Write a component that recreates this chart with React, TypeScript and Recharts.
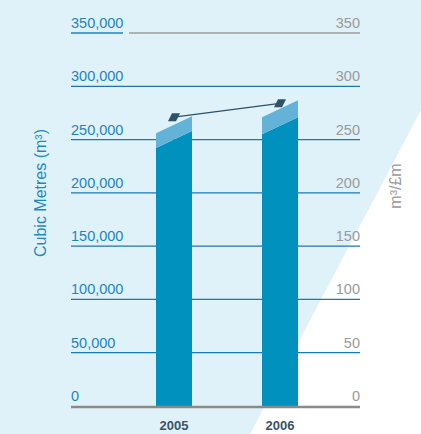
import { Bar, CartesianGrid, ComposedChart, Line, XAxis, YAxis } from 'recharts';

const years = ['2005', '2006'];
const baseVolume = [250000, 263000];
const topVolume = [14000, 16000];
const perMillion = [271, 284];
const volumeTicks = [0, 50000, 100000, 150000, 200000, 250000, 300000, 350000];
const ratioTicks = [0, 50, 100, 150, 200, 250, 300, 350];

const data = years.map((year, i) => ({
  year,
  base: baseVolume[i],
  top: topVolume[i],
  ratio: perMillion[i],
}));

const W = 421;
const H = 434;
const PLOT_LEFT = 71;
const PLOT_RIGHT = 360;
const SLANT = 8.5;
const FONT = '"Liberation Sans", Arial, sans-serif';

const pts = (list: number[][]) => list.map((p) => p.join(',')).join(' ');

const BaseShape = (p: any) => {
  const { x, y, width, height, fill } = p;
  return (
    <polygon
      fill={fill}
      points={pts([[x, y + height], [x + width, y + height], [x + width, y - SLANT], [x, y + SLANT]])}
    />
  );
};

const TopShape = (p: any) => {
  const { x, y, width, height, fill } = p;
  return (
    <polygon
      fill={fill}
      points={pts([[x, y + height + SLANT], [x + width, y + height - SLANT], [x + width, y - SLANT], [x, y + SLANT]])}
    />
  );
};

const RatioDot = (p: any) => {
  const { cx, cy } = p;
  if (cx == null || cy == null) return null;
  return (
    <polygon
      fill="#2d5366"
      points={pts([[cx - 6, cy + 4], [cx + 2, cy + 4], [cx + 6, cy - 4], [cx - 2, cy - 4]])}
    />
  );
};

const VolumeTick = ({ y, payload }: any) => {
  const v = payload.value as number;
  return (
    <g>
      <text x={PLOT_LEFT} y={y - 5} textAnchor="start" fill="#1f86bb" fontSize={14.5} fontFamily={FONT}>
        {v.toLocaleString('en-GB')}
      </text>
      {v === 350000 && (
        <>
          <line x1={PLOT_LEFT} x2={123} y1={y} y2={y} stroke="#1f86bb" strokeWidth={1.5} />
          <line x1={129} x2={PLOT_RIGHT} y1={y} y2={y} stroke="#9c9c9c" strokeWidth={1.5} />
        </>
      )}
      {v === 0 && (
        <line x1={PLOT_LEFT} x2={PLOT_RIGHT} y1={y + 1} y2={y + 1} stroke="#8a8a8a" strokeWidth={2.5} />
      )}
    </g>
  );
};

const RatioTick = ({ y, payload }: any) => (
  <text x={PLOT_RIGHT} y={y - 5} textAnchor="end" fill="#9a9a9a" fontSize={14.5} fontFamily={FONT}>
    {payload.value}
  </text>
);

const YearTick = ({ x, payload }: any) => (
  <text x={x} y={430} textAnchor="middle" fill="#3b5362" fontSize={13} fontWeight="bold" fontFamily={FONT}>
    {payload.value}
  </text>
);

const VolumeTitle = () => (
  <text
    x={46}
    y={193}
    transform="rotate(-90, 46, 193)"
    textAnchor="middle"
    fill="#1f8ac0"
    fontSize={16}
    fontFamily={FONT}
  >
    Cubic Metres (m³)
  </text>
);

const RatioTitle = () => (
  <text
    x={401}
    y={186}
    transform="rotate(-90, 401, 186)"
    textAnchor="middle"
    fill="#9a9a9a"
    fontSize={16}
    fontFamily={FONT}
  >
    m³/£m
  </text>
);

export default function App() {
  return (
    <div style={{ position: 'absolute', top: 0, left: 0, width: W, height: H, overflow: 'hidden' }}>
      <svg width={W} height={H} style={{ position: 'absolute', top: 0, left: 0 }}>
        <rect width={W} height={H} fill="#dff1f9" />
        <polygon points="421,110 421,434 250,434" fill="#ffffff" />
      </svg>
      <div style={{ position: 'absolute', top: 0, left: 0 }}>
        <ComposedChart width={W} height={H} data={data} margin={{ top: 33, right: 0, left: 0, bottom: 0 }}>
          <CartesianGrid
            yAxisId="left"
            vertical={false}
            horizontalValues={[50000, 100000, 150000, 200000, 250000, 300000]}
            stroke="#1b78b0"
            strokeWidth={1.3}
          />
          <XAxis
            dataKey="year"
            height={28}
            axisLine={false}
            tickLine={false}
            padding={{ left: 50, right: 27 }}
            tick={<YearTick />}
          />
          <YAxis
            yAxisId="left"
            width={71}
            domain={[0, 350000]}
            ticks={volumeTicks}
            axisLine={false}
            tickLine={false}
            tick={<VolumeTick />}
            label={<VolumeTitle />}
          />
          <YAxis
            yAxisId="right"
            orientation="right"
            width={61}
            domain={[0, 350]}
            ticks={ratioTicks}
            axisLine={false}
            tickLine={false}
            tick={<RatioTick />}
            label={<RatioTitle />}
          />
          <Bar yAxisId="left" dataKey="base" stackId="v" barSize={36} fill="#0091bf" shape={<BaseShape />} isAnimationActive={false} />
          <Bar yAxisId="left" dataKey="top" stackId="v" barSize={36} fill="#63b2d7" shape={<TopShape />} isAnimationActive={false} />
          <Line
            yAxisId="right"
            dataKey="ratio"
            stroke="#2d5366"
            strokeWidth={1.3}
            dot={<RatioDot />}
            activeDot={false}
            isAnimationActive={false}
          />
        </ComposedChart>
      </div>
    </div>
  );
}
